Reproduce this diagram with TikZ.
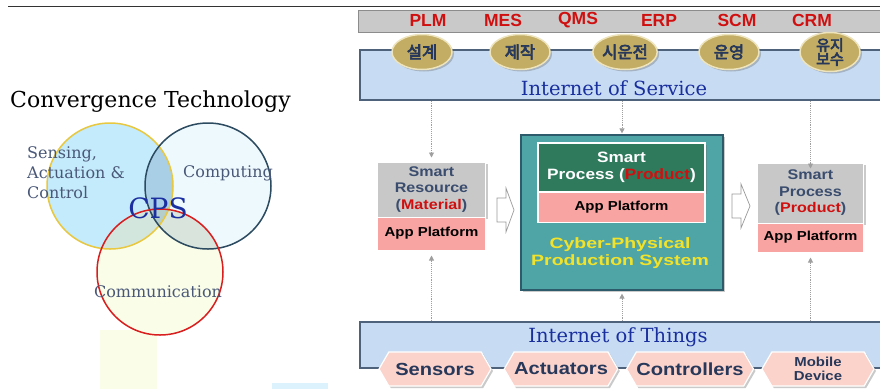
\documentclass[tikz,border=0pt]{standalone}
\usepackage{fontspec}
\setmainfont{Liberation Sans}
\newfontfamily\serifw{DejaVu Serif}
\newfontfamily\kr[FakeBold=4]{Noto Sans CJK KR}
\newfontfamily\widesans[FakeStretch=1.3]{Liberation Sans}
\newfontfamily\wsans[FakeStretch=1.15]{Liberation Sans}
\usetikzlibrary{shapes.symbols,shapes.geometric,shadows,arrows.meta,calc}
\definecolor{afill}{HTML}{C4EBFB}
\definecolor{bfill}{HTML}{EEF9FD}
\definecolor{cfill}{HTML}{FAFDE8}
\definecolor{abfill}{HTML}{A9CFE6}
\definecolor{acfill}{HTML}{D3E6DE}
\definecolor{bcfill}{HTML}{D9E5DC}
\definecolor{abcfill}{HTML}{B5CDCB}
\definecolor{ayellow}{HTML}{E8C840}
\definecolor{bnavy}{HTML}{2C4A60}
\definecolor{cred}{HTML}{D81E1E}
\definecolor{venntext}{HTML}{4A5878}
\definecolor{cpsblue}{HTML}{1B2FA0}
\definecolor{barfill}{HTML}{C9C9C9}
\definecolor{barline}{HTML}{8C8C8C}
\definecolor{iofill}{HTML}{C7DCF3}
\definecolor{ioline}{HTML}{4E627C}
\definecolor{iotext}{HTML}{1A2F9E}
\definecolor{ovalfill}{HTML}{C3AD64}
\definecolor{ovalrim}{HTML}{EDE3BC}
\definecolor{navytext}{HTML}{27385A}
\definecolor{slatetext}{HTML}{3B4D6E}
\definecolor{greybox}{HTML}{C8C8C8}
\definecolor{pinkbox}{HTML}{F7A4A2}
\definecolor{tealbox}{HTML}{4FA5A6}
\definecolor{tealline}{HTML}{2D5B6B}
\definecolor{greenbox}{HTML}{2F7A5C}
\definecolor{cppsyellow}{HTML}{F2E32A}
\definecolor{hexfill}{HTML}{FBD3CB}
\definecolor{redtext}{HTML}{D01010}
\tikzset{
  shad/.style={drop shadow={shadow xshift=2pt,shadow yshift=-2pt,opacity=0.35,fill=black!60}},
  oval/.style={ellipse,minimum width=60pt,minimum height=35pt,inner sep=0pt,fill=ovalfill,draw=ovalrim,line width=1.5pt,shad,
    font=\kr\fontsize{16.5}{17}\selectfont,text=navytext,align=center},
  toplabel/.style={font=\bfseries\fontsize{17.5}{18}\selectfont,text=redtext},
  greyb/.style={rectangle,fill=greybox,draw=white,line width=1pt,inner sep=0pt,align=center,text=slatetext,font=\wsans\bfseries\fontsize{14}{16.5}\selectfont},
  pinkb/.style={rectangle,fill=pinkbox,draw=white,line width=1pt,inner sep=0pt,align=center,text=black,font=\wsans\bfseries\fontsize{13}{15}\selectfont},
  dotarrow/.style={densely dotted,draw=gray!75,line width=0.9pt,-{Triangle[length=5pt,width=5pt]}},
  hollow/.style={draw=gray!80,fill=white,line width=0.7pt},
  hexb/.style={signal,signal to=west and east,signal pointer angle=120,fill=hexfill,draw=white,line width=1.2pt,shad,
    inner sep=0pt,text=navytext,font=\wsans\bfseries\fontsize{17.5}{19}\selectfont,align=center},
  venn/.style={font=\serifw\fontsize{16}{20}\selectfont,text=venntext,inner sep=0pt}
}
\begin{document}
\begin{tikzpicture}[x=1pt,y=-1pt]
\useasboundingbox (0,0) rectangle (880,389);
% top rule
\draw[black!80,line width=1pt] (8,6) -- (880,6);
% faint background rectangles
\fill[cfill] (100,330) rectangle (157,389);
\fill[afill!60] (272,383) rectangle (328,389);
% title
\node[font=\serifw\fontsize{22}{24}\selectfont,anchor=west,inner sep=0pt] (title) at (10,102) {Convergence Technology};
% Venn circles
\fill[afill] (110,186) circle (63pt);
\fill[bfill] (208,186) circle (63pt);
\fill[cfill] (160,272) circle (63pt);
\begin{scope}\clip (110,186) circle (63pt); \fill[abfill] (208,186) circle (63pt); \fill[acfill] (160,272) circle (63pt);\end{scope}
\begin{scope}\clip (208,186) circle (63pt); \fill[bcfill] (160,272) circle (63pt);\end{scope}
\begin{scope}\clip (110,186) circle (63pt); \clip (208,186) circle (63pt); \fill[abcfill] (160,272) circle (63pt);\end{scope}
\draw[ayellow,line width=1.5pt] (110,186) circle (63pt);
\draw[bnavy,line width=1.5pt] (208,186) circle (63pt);
\draw[cred,line width=1.5pt] (160,272) circle (63pt);
\node[venn,anchor=west,align=left] (sensing) at (27,173) {Sensing,\\Actuation \&\\Control};
\node[venn] (computing) at (228,173) {Computing};
\node[venn] (communication) at (158,292) {Communication};
\node[font=\serifw\fontsize{28}{30}\selectfont,text=cpsblue,inner sep=0pt] (cps) at (158,208) {CPS};

% ===== right diagram =====
% top bar
\node[rectangle,fill=barfill,draw=barline,line width=0.8pt,minimum width=524pt,minimum height=22pt,inner sep=0pt] (bar) at (620,21) {};
\foreach \t/\x in {PLM/428,MES/503,QMS/578,ERP/659,SCM/737,CRM/812}
  \node[toplabel] (lab\t) at (\x,20) {\t};
% Internet of Service
\node[rectangle,fill=iofill,draw=ioline,line width=1.5pt,minimum width=524pt,minimum height=50pt,inner sep=0pt] (ios) at (622,75) {};
\node[font=\serifw\fontsize{19.5}{21}\selectfont,text=iotext,inner sep=0pt] (iostext) at (614,88) {Internet of Service};
\node[oval] (o1) at (422,52) {설계};
\node[oval] (o2) at (520,52) {제작};
\node[oval] (o3) at (625,52) {시운전};
\node[oval] (o4) at (729,52) {운영};
\node[oval,font=\kr\fontsize{15}{14}\selectfont] (o5) at (830,52) {유지\\보수};

% left box
\node[greyb,minimum width=108pt,minimum height=55pt,shad] (srm) at (431.5,189.5) {Smart\\Resource\\(\textcolor{redtext}{Material})};
\node[pinkb,minimum width=108pt,minimum height=33pt] (app1) at (431.5,233.5) {App Platform};
% middle box
\node[rectangle,fill=tealbox,draw=tealline,line width=1.2pt,minimum width=202pt,minimum height=155pt,shad] (cpps) at (622,212.5) {};
\node[rectangle,fill=greenbox,draw=white,line width=1.5pt,minimum width=167pt,minimum height=49pt,inner sep=0pt,
  text=white,align=center,font=\wsans\bfseries\fontsize{15}{17}\selectfont,shad] (sp) at (621.5,167.5) {Smart\\Process (\textcolor{redtext}{Product})};
\node[pinkb,draw=white,line width=1.5pt,minimum width=167pt,minimum height=30pt] (app2) at (621.5,207.5) {App Platform};
\node[font=\widesans\bfseries\fontsize{15}{17}\selectfont,text=cppsyellow,align=center,inner sep=0pt] (cppstext) at (620,253) {Cyber-Physical\\Production System};
% right box
\node[greyb,minimum width=106pt,minimum height=60pt,shad] (prod) at (810.5,193) {Smart\\Process\\(\textcolor{redtext}{Product})};
\node[pinkb,minimum width=106pt,minimum height=29pt] (app3) at (810.5,237.5) {App Platform};
% hollow arrows
\coordinate (ha1) at (497,210);
\draw[hollow] (ha1) ++(0,-12) -- ++(9,0) -- ++(0,-10) -- ++(8,22) -- ++(-8,22) -- ++(0,-10) -- ++(-9,0) -- cycle;
\coordinate (ha2) at (732,206);
\draw[hollow] (ha2) ++(0,-12) -- ++(9,0) -- ++(0,-10) -- ++(9,22) -- ++(-9,22) -- ++(0,-10) -- ++(-9,0) -- cycle;

% Internet of Things
\node[rectangle,fill=iofill,draw=ioline,line width=1.5pt,minimum width=524pt,minimum height=46pt,inner sep=0pt] (iot) at (622,345) {};
\node[font=\serifw\fontsize{19.5}{21}\selectfont,text=iotext,inner sep=0pt] (iottext) at (618,337) {Internet of Things};
\node[hexb,minimum width=112pt,minimum height=34pt] (h1) at (435,369) {Sensors};
\node[hexb,minimum width=112pt,minimum height=34pt] (h2) at (561,369) {Actuators};
\node[hexb,minimum width=120pt,minimum height=34pt] (h3) at (690,369) {Controllers};
\node[hexb,minimum width=112pt,minimum height=34pt,font=\wsans\bfseries\fontsize{13}{14}\selectfont] (h4) at (818,369) {Mobile\\Device};

% dotted arrows
\draw[dotarrow,shorten >=4pt] (ios.south -| srm.north) -- (srm.north);
\draw[dotarrow,shorten >=1pt] (ios.south -| cpps.north) -- (cpps.north);
\draw[dotarrow,shorten >=-6pt] (ios.south -| prod.north) -- (prod.north);
\draw[dotarrow,shorten >=5pt] (iot.north -| app1.south) -- (app1.south);
\draw[dotarrow,shorten >=3pt] (iot.north -| cpps.south) -- (cpps.south);
\draw[dotarrow,shorten >=5pt] (iot.north -| app3.south) -- (app3.south);
\end{tikzpicture}
\end{document}
